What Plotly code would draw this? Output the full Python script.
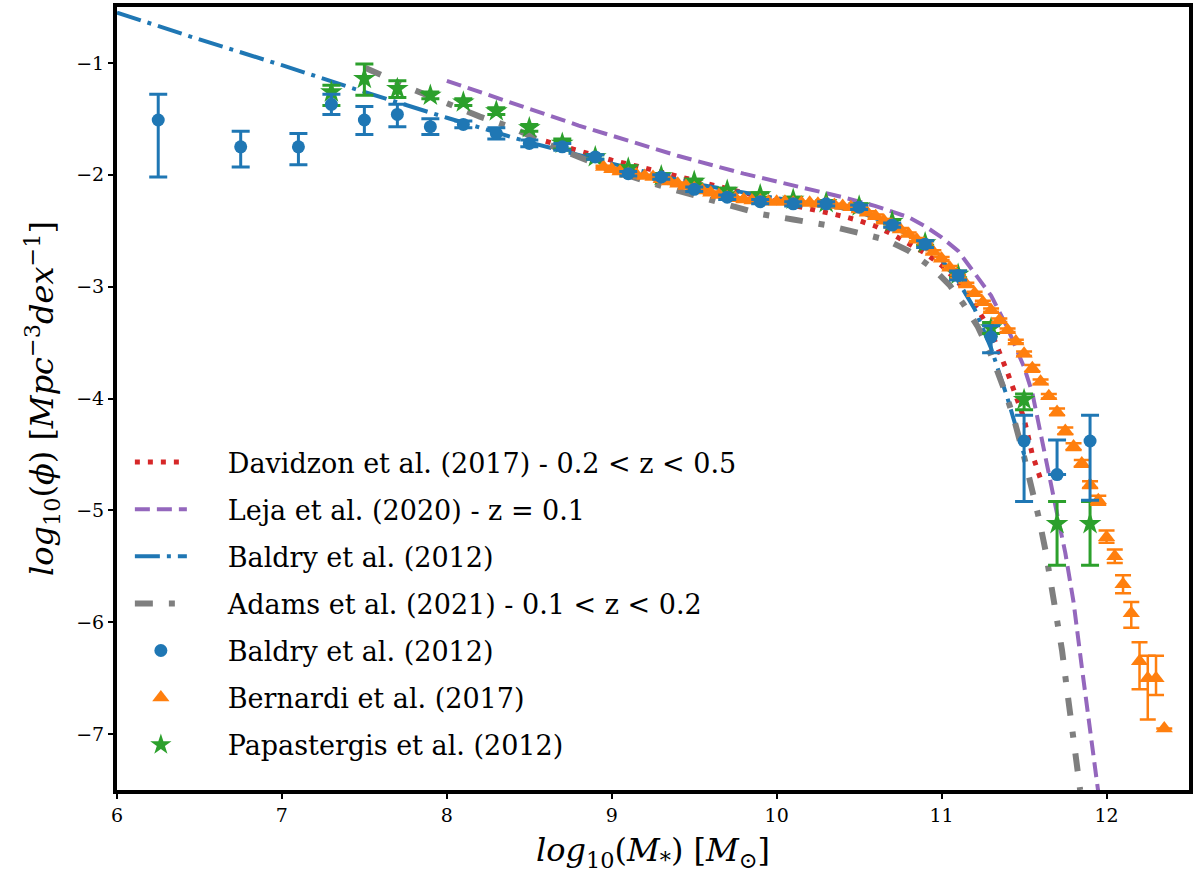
import plotly.graph_objects as go

# ---------------- data ----------------
# Baldry et al. (2012) data points
baldry_x = [6.25, 6.75, 7.10, 7.30, 7.50, 7.70, 7.90, 8.10, 8.30, 8.50, 8.70, 8.90, 9.10, 9.30,
            9.50, 9.70, 9.90, 10.10, 10.30, 10.50, 10.70, 10.90, 11.10, 11.30, 11.50, 11.70, 11.90]
baldry_y = [-1.51, -1.75, -1.75, -1.37, -1.51, -1.46, -1.57, -1.55, -1.63, -1.72, -1.75, -1.84, -1.99, -2.02,
            -2.13, -2.20, -2.24, -2.26, -2.26, -2.29, -2.45, -2.62, -2.90, -3.45, -4.38, -4.68, -4.38]
baldry_eup = [0.23, 0.14, 0.12, 0.09, 0.12, 0.09, 0.07, 0.03, 0.05, 0.03, 0.03, 0.02, 0.02, 0.02,
              0.02, 0.02, 0.02, 0.02, 0.02, 0.02, 0.02, 0.03, 0.04, 0.10, 0.23, 0.31, 0.23]
baldry_edn = [0.51, 0.18, 0.16, 0.09, 0.13, 0.11, 0.07, 0.03, 0.05, 0.03, 0.03, 0.02, 0.02, 0.02,
              0.02, 0.02, 0.02, 0.02, 0.02, 0.02, 0.02, 0.03, 0.04, 0.14, 0.54, 0.00, 0.53]

# Papastergis et al. (2012) data points
papa_x = [7.3, 7.5, 7.7, 7.9, 8.1, 8.3, 8.5, 8.7, 8.9, 9.1, 9.3, 9.5, 9.7, 9.9,
          10.1, 10.3, 10.5, 10.7, 10.9, 11.1, 11.3, 11.5, 11.7, 11.9]
papa_y = [-1.26, -1.14, -1.23, -1.29, -1.35, -1.43, -1.58, -1.72, -1.84, -1.94, -2.01, -2.06, -2.14, -2.18,
          -2.22, -2.25, -2.28, -2.42, -2.61, -2.89, -3.37, -4.01, -5.12, -5.12]
papa_eup = [0.06, 0.13, 0.07, 0.03, 0.03, 0.03, 0.03, 0.04, 0.02, 0.02, 0.02, 0.02, 0.02, 0.02,
            0.02, 0.02, 0.02, 0.02, 0.02, 0.03, 0.05, 0.05, 0.20, 0.20]
papa_edn = [0.12, 0.15, 0.08, 0.03, 0.03, 0.03, 0.03, 0.05, 0.02, 0.02, 0.02, 0.02, 0.02, 0.02,
            0.02, 0.02, 0.02, 0.02, 0.02, 0.03, 0.05, 0.09, 0.37, 0.37]

# Bernardi et al. (2017) data points
bern_x = [8.95, 9.00, 9.05, 9.10, 9.15, 9.20, 9.25, 9.30, 9.35, 9.40, 9.45, 9.50, 9.55, 9.60,
          9.65, 9.70, 9.75, 9.80, 9.85, 9.90, 9.95, 10.00, 10.05, 10.10, 10.15, 10.20, 10.25,
          10.30, 10.35, 10.40, 10.45, 10.50, 10.55, 10.60, 10.65, 10.70, 10.75, 10.80, 10.85,
          10.90, 10.95, 11.00, 11.05, 11.10, 11.15, 11.20, 11.25, 11.30, 11.35, 11.40, 11.45,
          11.50, 11.55, 11.60, 11.65, 11.70, 11.75, 11.80, 11.85, 11.90, 11.95, 12.00, 12.05,
          12.10, 12.15, 12.20, 12.25, 12.30, 12.35]
bern_y = [-1.93, -1.95, -1.97, -1.99, -2.00, -2.01, -2.02, -2.04, -2.06, -2.08, -2.10, -2.12, -2.14, -2.16,
          -2.18, -2.20, -2.21, -2.22, -2.23, -2.23, -2.24, -2.24, -2.24, -2.25, -2.25, -2.25, -2.26,
          -2.26, -2.27, -2.28, -2.29, -2.31, -2.34, -2.37, -2.41, -2.45, -2.49, -2.53, -2.58,
          -2.63, -2.69, -2.75, -2.83, -2.91, -2.98, -3.06, -3.14, -3.21, -3.30, -3.39, -3.49,
          -3.60, -3.73, -3.85, -3.98, -4.12, -4.29, -4.43, -4.58, -4.77, -4.91, -5.24, -5.41,
          -5.66, -5.92, -6.35, -6.50, -6.50, -6.95]
bern_eup = [0.01] * 31 + [0.015] * 20 + [0.02, 0.03, 0.02, 0.02, 0.03, 0.03, 0.03, 0.03, 0.03, 0.04,
                                         0.06, 0.06, 0.08, 0.10, 0.17, 0.20, 0.20, 0.0]
bern_edn = [0.01] * 31 + [0.015] * 20 + [0.02, 0.03, 0.02, 0.02, 0.03, 0.03, 0.03, 0.03, 0.03, 0.04,
                                         0.05, 0.06, 0.08, 0.13, 0.25, 0.37, 0.15, 0.0]

# Davidzon et al. (2017) fit
dav_x = [8.60, 8.80, 9.00, 9.20, 9.40, 9.60, 9.80, 10.00, 10.20, 10.30, 10.40, 10.50, 10.60,
         10.70, 10.80, 10.90, 11.00, 11.10, 11.20, 11.30, 11.40, 11.50, 11.55, 11.60]
dav_y = [-1.70, -1.79, -1.87, -1.94, -2.01, -2.08, -2.16, -2.24, -2.30, -2.33, -2.37, -2.41, -2.46,
         -2.53, -2.61, -2.70, -2.81, -2.96, -3.16, -3.40, -3.77, -4.18, -4.50, -4.72]

# Leja et al. (2020) fit
leja_x = [8.0, 8.2, 8.4, 8.6, 8.8, 9.0, 9.2, 9.4, 9.6, 9.8, 10.0, 10.2, 10.4, 10.6, 10.8,
          10.9, 11.0, 11.1, 11.2, 11.3, 11.4, 11.5, 11.55, 11.6, 11.65, 11.7, 11.75, 11.8,
          11.85, 11.9, 11.95]
leja_y = [-1.16, -1.26, -1.36, -1.46, -1.56, -1.65, -1.74, -1.83, -1.91, -1.99, -2.06, -2.13,
          -2.20, -2.28, -2.38, -2.46, -2.56, -2.68, -2.88, -3.08, -3.37, -3.72, -3.95, -4.32,
          -4.70, -5.03, -5.38, -5.82, -6.40, -6.95, -7.52]

# Baldry et al. (2012) fit
bfit_x = [6.0, 6.5, 7.0, 7.5, 8.0, 8.5, 9.0, 9.5, 10.0, 10.3, 10.5, 10.7, 10.9, 11.0, 11.1,
          11.2, 11.3, 11.4, 11.5]
bfit_y = [-0.55, -0.79, -1.02, -1.26, -1.49, -1.71, -1.90, -2.08, -2.21, -2.27, -2.33, -2.45,
          -2.63, -2.76, -2.95, -3.20, -3.55, -4.00, -4.50]

# Adams et al. (2021) fit
adams_x = [7.5, 7.6, 7.8, 8.0, 8.2, 8.4, 8.6, 8.8, 9.0, 9.3, 9.5, 9.7, 9.9, 10.1, 10.3, 10.5,
           10.66, 10.8, 10.95, 11.05, 11.13, 11.22, 11.30, 11.39, 11.44, 11.50, 11.55, 11.59,
           11.63, 11.67, 11.70, 11.73, 11.76, 11.78, 11.81, 11.84]
adams_y = [-1.04, -1.11, -1.24, -1.36, -1.48, -1.58, -1.72, -1.84, -1.96, -2.10, -2.18, -2.27,
           -2.35, -2.40, -2.45, -2.52, -2.58, -2.68, -2.84, -2.99, -3.15, -3.36, -3.61, -3.96,
           -4.19, -4.52, -4.82, -5.07, -5.36, -5.71, -5.96, -6.25, -6.60, -6.85, -7.15, -7.50]

x_ticks = [6, 7, 8, 9, 10, 11, 12]
y_ticks = [-1, -2, -3, -4, -5, -6, -7]

# ---------------- colours ----------------
C_BLUE, C_ORANGE, C_GREEN = "#1f77b4", "#ff7f0e", "#2ca02c"
C_RED, C_PURPLE, C_GRAY = "#d62728", "#9467bd", "#7f7f7f"
SERIF = '"DejaVu Serif", "Liberation Serif", serif'
PAD = "\u2003\u2004"  # spacing between legend glyph and label

fig = go.Figure()

# lines (drawn first)
fig.add_trace(go.Scatter(x=dav_x, y=dav_y, mode="lines", name=PAD + "Davidzon et al. (2017) - 0.2 &lt; z &lt; 0.5",
                         line=dict(color=C_RED, width=5, dash="5px,8px"), legendgroup="g1", legendrank=1))
fig.add_trace(go.Scatter(x=leja_x, y=leja_y, mode="lines", name=PAD + "Leja et al. (2020) - z = 0.1",
                         line=dict(color=C_PURPLE, width=4, dash="15px,7px"), legendgroup="g2", legendrank=2))
fig.add_trace(go.Scatter(x=bfit_x, y=bfit_y, mode="lines", name=PAD + "Baldry et al. (2012)",
                         line=dict(color=C_BLUE, width=4, dash="25px,7px,4px,7px"), legendgroup="g3", legendrank=3))
fig.add_trace(go.Scatter(x=adams_x, y=adams_y, mode="lines", name=PAD + "Adams et al. (2021) - 0.1 &lt; z &lt; 0.2",
                         line=dict(color=C_GRAY, width=6, dash="18px,16px,6px,16px"), legendgroup="g4", legendrank=4))

# points
fig.add_trace(go.Scatter(x=papa_x, y=papa_y, mode="markers", name=PAD + "Papastergis et al. (2012)",
                         marker=dict(symbol="star", size=17, color=C_GREEN, line=dict(width=0)),
                         error_y=dict(type="data", symmetric=False, array=papa_eup, arrayminus=papa_edn,
                                      color=C_GREEN, thickness=3, width=9),
                         legendgroup="g7", legendrank=7))
fig.add_trace(go.Scatter(x=bern_x, y=bern_y, mode="markers", name=PAD + "Bernardi et al. (2017)",
                         marker=dict(symbol="triangle-up", size=15, color=C_ORANGE, line=dict(width=0)),
                         error_y=dict(type="data", symmetric=False, array=bern_eup, arrayminus=bern_edn,
                                      color=C_ORANGE, thickness=2.5, width=8),
                         legendgroup="g6", legendrank=6))
fig.add_trace(go.Scatter(x=baldry_x, y=baldry_y, mode="markers", name=PAD + "Baldry et al. (2012)",
                         marker=dict(symbol="circle", size=13, color=C_BLUE, line=dict(width=0)),
                         error_y=dict(type="data", symmetric=False, array=baldry_eup, arrayminus=baldry_edn,
                                      color=C_BLUE, thickness=3, width=9),
                         legendgroup="g5", legendrank=5))

axis_common = dict(showline=True, linewidth=4, linecolor="black", mirror=True, showgrid=False,
                   zeroline=False, ticks="outside", ticklen=5, tickwidth=1.5, tickcolor="black",
                   automargin=False,
                   tickfont=dict(family=SERIF, size=19, color="black"))

fig.update_xaxes(range=[6, 12.5], tickvals=x_ticks, ticktext=[str(v) for v in x_ticks],
                 ticklabelstandoff=0,
                 title=dict(text="<i>log</i><sub>10</sub>(<i>M</i><sub>*</sub>) [<i>M</i><sub>⊙</sub>]",
                            font=dict(family=SERIF, size=32, color="black"), standoff=15),
                 **axis_common)
fig.update_yaxes(range=[-7.5, -0.5], tickvals=y_ticks, ticktext=["−" + str(-v) for v in y_ticks],
                 ticklabelstandoff=0,
                 title=dict(text="<i>log</i><sub>10</sub>(<i>ϕ</i>) [<i>Mpc</i><sup>−3</sup><i>dex</i><sup>−1</sup>]",
                            font=dict(family=SERIF, size=32, color="black"), standoff=14),
                 **axis_common)

fig.update_layout(
    width=1199, height=877,
    margin=dict(l=117, r=10, t=7, b=87),
    paper_bgcolor="white", plot_bgcolor="white",
    showlegend=True,
    legend=dict(x=0.012, y=0.4495, xanchor="left", yanchor="top", bgcolor="rgba(0,0,0,0)",
                borderwidth=0, font=dict(family=SERIF, size=27, color="black"),
                traceorder="grouped", tracegroupgap=9, itemwidth=52),
)

fig.write_html("out.html", config={"displayModeBar": False},
               post_script="document.body.style.margin='0';")
